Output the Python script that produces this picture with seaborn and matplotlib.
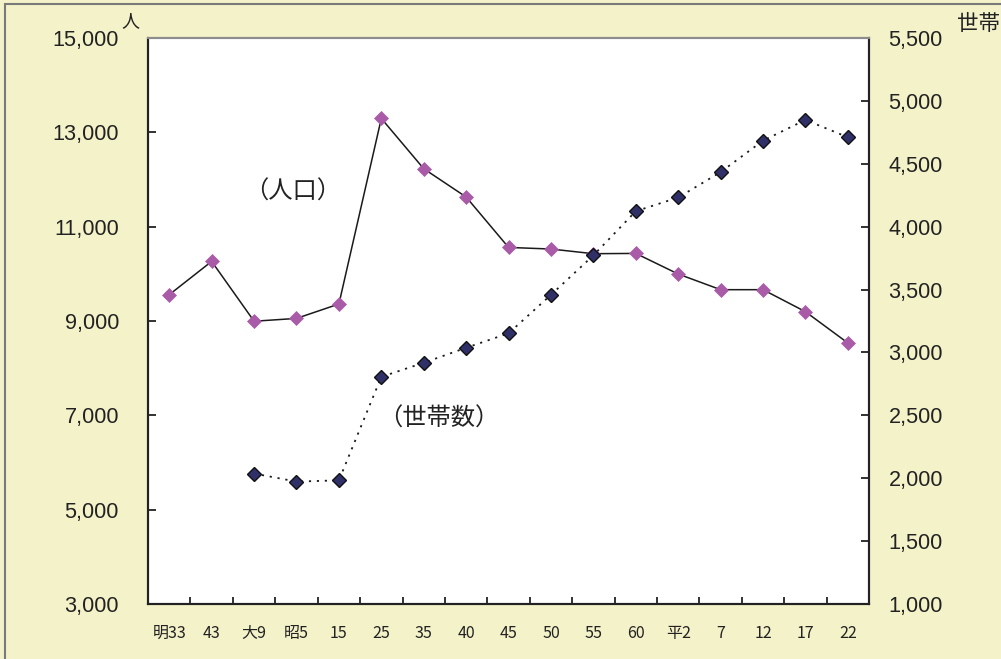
import numpy as np
import pandas as pd
import matplotlib
matplotlib.use("Agg")
import matplotlib.pyplot as plt
from matplotlib.patches import Rectangle
import seaborn as sns

# 年次（明治33年〜平成22年）
periods = ["明33", "43", "大9", "昭5", "15", "25", "35", "40", "45",
           "50", "55", "60", "平2", "7", "12", "17", "22"]
# 人口（人）
population = [9558, 10264, 8995, 9055, 9360, 13295, 12229, 11629, 10560,
              10526, 10427, 10433, 9996, 9664, 9664, 9197, 8534]
# 世帯数（明治期は記録なし）
households = [np.nan, np.nan, 2037, 1973, 1983, 2806, 2918, 3037, 3152,
              3458, 3772, 4123, 4232, 4434, 4684, 4849, 4711]

pop_ticks = [3000, 5000, 7000, 9000, 11000, 13000, 15000]
hh_ticks = [1000, 1500, 2000, 2500, 3000, 3500, 4000, 4500, 5000, 5500]

df = pd.DataFrame({"pos": np.arange(len(periods)),
                   "period": periods,
                   "population": population,
                   "households": households})

sns.set_theme(style="white")
plt.rcParams["font.family"] = ["Noto Sans CJK JP", "DejaVu Sans"]
NUM_FONT = ["Liberation Sans Narrow", "Liberation Sans", "DejaVu Sans"]

BG = "#F4F2C9"
PINK = "#A95BA8"
NAVY = "#2F3068"
INK = "#222222"

fig = plt.figure(figsize=(10.01, 6.59), dpi=100, facecolor=BG)
ax = fig.add_axes([0.1479, 0.0835, 0.7203, 0.8588])
ax.set_facecolor("white")
ax2 = ax.twinx()

sns.lineplot(data=df, x="pos", y="population", ax=ax, color="#1a1a1a",
             linewidth=1.1, marker="D", markersize=7.2,
             markerfacecolor=PINK, markeredgecolor=PINK, markeredgewidth=0.5,
             zorder=3)
sns.lineplot(data=df.dropna(), x="pos", y="households", ax=ax2, color="#1a1a1a",
             linewidth=1.3, linestyle=(0, (1.2, 3.2)), marker="D", markersize=6.8,
             markerfacecolor=NAVY, markeredgecolor="#111111", markeredgewidth=1.0,
             zorder=3)

n = len(periods)
for a in (ax, ax2):
    a.set_xlim(-0.5, n - 0.5)
    a.set_xlabel("")
    a.set_ylabel("")
    a.grid(False)

ax.set_ylim(pop_ticks[0], pop_ticks[-1])
ax.set_yticks(pop_ticks)
ax.set_yticklabels([f"{v:,}" for v in pop_ticks], fontsize=15.6, color=INK,
                   family=NUM_FONT)
ax2.set_ylim(hh_ticks[0], hh_ticks[-1])
ax2.set_yticks(hh_ticks)
ax2.set_yticklabels([f"{v:,}" for v in hh_ticks], fontsize=15.6, color=INK,
                    family=NUM_FONT)

# category labels at centers, tick marks on category boundaries
ax.set_xticks(np.arange(n))
ax.set_xticklabels(periods, fontsize=11.5, color=INK)
ax.set_xticks(np.arange(n + 1) - 0.5, minor=True)
ax.tick_params(axis="x", which="major", length=0, pad=15)
ax.tick_params(axis="x", which="minor", direction="in", length=5, width=1.3,
               color=INK, bottom=True)
ax.tick_params(axis="y", direction="in", length=6, width=1.3, color=INK,
               left=True, pad=21)
ax2.tick_params(axis="y", direction="in", length=6, width=1.3, color=INK,
                right=True, pad=14)

for a in (ax, ax2):
    for side in ("left", "right", "bottom"):
        a.spines[side].set_color(INK)
        a.spines[side].set_linewidth(1.5)
    a.spines["top"].set_color("#8c8c8c")
    a.spines["top"].set_linewidth(1.5)

# series labels
ax.text(2.9, 11740, "（人口）", fontsize=17.5, color=INK,
        ha="center", va="center")
ax2.text(6.35, 2470, "（世帯数）", fontsize=17.5, color=INK,
         ha="center", va="center")

# axis units
fig.text(130 / 1001, 1 - 21 / 659, "人", fontsize=13, color=INK,
         ha="center", va="center")
fig.text(957 / 1001, 1 - 24 / 659, "世帯", fontsize=15.5, color=INK,
         ha="left", va="center")

# outer frame
fig.patches.append(Rectangle((5 / 1001, -0.02), 1.1, 1 - 4 / 659 + 0.02,
                             transform=fig.transFigure, fill=False,
                             edgecolor="#7a7a7a", linewidth=1.5))

fig.savefig("out.png", dpi=100, facecolor=BG)
